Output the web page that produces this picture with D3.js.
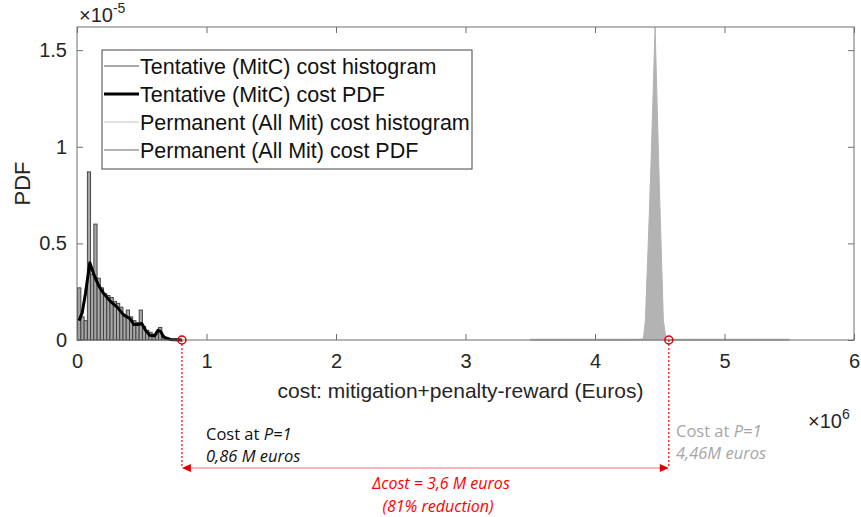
<!DOCTYPE html>
<html>
<head>
<meta charset="utf-8">
<script src="https://cdn.jsdelivr.net/npm/d3@7"></script>
<style>
body { margin: 0; background: #fff; }
svg { display: block; font-family: "Liberation Sans", Arial, sans-serif; }
.ann { font-family: "Open Sans", "Noto Sans", sans-serif; }
</style>
</head>
<body>
<svg width="861" height="517"></svg>
<script>
// values: cost in millions of euros, PDF in units of 1e-5
var tentHistEdges = [0.005, 0.03, 0.055, 0.08, 0.105, 0.13, 0.155, 0.18, 0.205, 0.23, 0.255, 0.28, 0.305, 0.33, 0.355, 0.38, 0.405, 0.43, 0.455, 0.48, 0.505, 0.53, 0.555, 0.58, 0.605, 0.63, 0.655, 0.68, 0.705, 0.73, 0.755, 0.78, 0.805];
var tentHist = [0.27, 0.12, 0.10, 0.87, 0.34, 0.60, 0.32, 0.27, 0.24, 0.23, 0.22, 0.20, 0.19, 0.17, 0.13, 0.155, 0.12, 0.10, 0.09, 0.155, 0.07, 0.05, 0.04, 0.03, 0.03, 0.065, 0.02, 0.01, 0.005, 0, 0, 0];

var tentPdfX = [0.015, 0.04, 0.065, 0.099, 0.13, 0.168, 0.207, 0.258, 0.31, 0.36, 0.41, 0.44, 0.47, 0.50, 0.53, 0.56, 0.60, 0.625, 0.645, 0.67, 0.72, 0.81];
var tentPdfY = [0.10, 0.14, 0.24, 0.40, 0.34, 0.28, 0.24, 0.20, 0.17, 0.13, 0.11, 0.08, 0.08, 0.085, 0.05, 0.025, 0.022, 0.05, 0.045, 0.015, 0.003, 0];

var permHistEdges = [3.5, 3.75, 4.0, 4.25, 4.40, 4.425, 4.45, 4.475, 4.50, 4.75, 5.0, 5.25, 5.5];
var permHist = [0, 0, 0, 0, 0.3, 0.8, 0.8, 0.55, 0, 0, 0, 0];

var permPdfX = [3.5, 4.0, 4.3, 4.373, 4.389, 4.427, 4.464, 4.497, 4.528, 4.55, 4.7, 5.0, 5.5];
var permPdfY = [0, 0, 0, 0.005, 0.1, 0.79, 1.62, 0.79, 0.1, 0, 0, 0, 0];

var xTicks = [0, 1, 2, 3, 4, 5, 6];
var yTicks = [0, 0.5, 1, 1.5];
var legendLabels = ["Tentative (MitC) cost histogram", "Tentative (MitC) cost PDF",
  "Permanent (All Mit) cost histogram", "Permanent (All Mit) cost PDF"];

var costP1Tent = 0.81, costP1Perm = 4.57;

var svg = d3.select("svg"),
    margin = {top: 27, right: 7, bottom: 177, left: 77},
    width = +svg.attr("width") - margin.left - margin.right,
    height = +svg.attr("height") - margin.top - margin.bottom,
    g = svg.append("g").attr("transform", "translate(" + margin.left + "," + margin.top + ")");

var x = d3.scaleLinear().domain([0, 6]).range([0, width]);
var y = d3.scaleLinear().domain([0, 1.62]).range([height, 0]);

var axisCol = "#6e6e6e", textCol = "#262626";

// permanent histogram (light gray)
var permBins = permHist.map(function(v, i) { return {x0: permHistEdges[i], x1: permHistEdges[i + 1], v: v}; });
g.selectAll(".phist").data(permBins).enter().append("rect")
  .attr("class", "phist")
  .attr("x", function(d) { return x(d.x0); })
  .attr("width", function(d) { return x(d.x1) - x(d.x0); })
  .attr("y", function(d) { return y(d.v) - 1; })
  .attr("height", function(d) { return y(0) - y(d.v) + 1; })
  .attr("fill", "#d6d6d6")
  .attr("stroke", "#d6d6d6")
  .attr("stroke-width", 1);

// permanent pdf (filled gray)
var permPts = permPdfX.map(function(v, i) { return [v, permPdfY[i]]; });
g.append("path").datum(permPts)
  .attr("d", d3.area().x(function(d) { return x(d[0]); }).y0(y(0)).y1(function(d) { return y(d[1]); }))
  .attr("fill", "#b3b3b3")
  .attr("stroke", "#b3b3b3")
  .attr("stroke-width", 1);

// tentative histogram
var tentBins = tentHist.map(function(v, i) { return {x0: tentHistEdges[i], x1: tentHistEdges[i + 1], v: v}; });
g.selectAll(".thist").data(tentBins).enter().append("rect")
  .attr("class", "thist")
  .attr("x", function(d) { return x(d.x0); })
  .attr("width", function(d) { return x(d.x1) - x(d.x0); })
  .attr("y", function(d) { return y(d.v); })
  .attr("height", function(d) { return y(0) - y(d.v); })
  .attr("fill", "#a6a6a6")
  .attr("stroke", "#3a3a3a")
  .attr("stroke-width", 0.9);

// tentative pdf
var tentPts = tentPdfX.map(function(v, i) { return [v, tentPdfY[i]]; });
g.append("path").datum(tentPts)
  .attr("d", d3.line().x(function(d) { return x(d[0]); }).y(function(d) { return y(d[1]); }))
  .attr("fill", "none")
  .attr("stroke", "#000")
  .attr("stroke-width", 3)
  .attr("stroke-linejoin", "round");

// axes box
g.append("rect").attr("width", width).attr("height", height)
  .attr("fill", "none").attr("stroke", axisCol).attr("stroke-width", 1);

var xAxis = g.append("g").attr("transform", "translate(0," + height + ")")
  .call(d3.axisBottom(x).tickValues(xTicks).tickSize(-6).tickPadding(14).tickFormat(d3.format("d")));
var xTop = g.append("g")
  .call(d3.axisTop(x).tickValues(xTicks).tickSize(-6).tickFormat(""));
var yAxis = g.append("g")
  .call(d3.axisLeft(y).tickValues(yTicks).tickSize(-6).tickPadding(10).tickFormat(function(d) { return d; }));
var yRight = g.append("g").attr("transform", "translate(" + width + ",0)")
  .call(d3.axisRight(y).tickValues(yTicks).tickSize(-6).tickFormat(""));

[xAxis, xTop, yAxis, yRight].forEach(function(a) {
  a.select(".domain").remove();
  a.selectAll(".tick line").attr("stroke", axisCol);
  a.selectAll(".tick text").attr("fill", textCol).style("font-size", "20px");
});

// axis labels
svg.append("text")
  .attr("transform", "translate(30," + (margin.top + height / 2) + ") rotate(-90)")
  .attr("text-anchor", "middle")
  .attr("fill", textCol)
  .style("font-size", "22px")
  .text("PDF");

svg.append("text")
  .attr("x", margin.left + width / 2 - 5)
  .attr("y", 398)
  .attr("text-anchor", "middle")
  .attr("fill", textCol)
  .style("font-size", "21px")
  .text("cost: mitigation+penalty-reward (Euros)");

var e1 = svg.append("text").attr("x", 79).attr("y", 22).attr("fill", textCol).style("font-size", "20px");
e1.append("tspan").text("\u00d710");
e1.append("tspan").attr("dy", -9).style("font-size", "14px").text("-5");

var e2 = svg.append("text").attr("x", 808).attr("y", 428).attr("fill", textCol).style("font-size", "20px");
e2.append("tspan").text("\u00d710");
e2.append("tspan").attr("dy", -9).style("font-size", "14px").text("6");

// legend
var leg = g.append("g").attr("transform", "translate(25,23)");
leg.append("rect").attr("width", 370).attr("height", 119)
  .attr("fill", "#fff").attr("stroke", "#444").attr("stroke-width", 1);
var legStyles = [
  {c: "#555", w: 1.2},
  {c: "#000", w: 3},
  {c: "#d6d6d6", w: 1.5},
  {c: "#b3b3b3", w: 2}
];
legendLabels.forEach(function(lab, i) {
  var yy = 16 + i * 28;
  leg.append("line").attr("x1", 2).attr("x2", 37).attr("y1", yy).attr("y2", yy)
    .attr("stroke", legStyles[i].c).attr("stroke-width", legStyles[i].w);
  leg.append("text").attr("x", 38).attr("y", yy).attr("dy", "0.35em")
    .attr("fill", "#111").style("font-size", "21.5px").text(lab);
});

// annotations
var red = "#ff0000";
var arrowY = 468 - margin.top;
[costP1Tent, costP1Perm].forEach(function(c) {
  g.append("line").attr("x1", x(c)).attr("x2", x(c)).attr("y1", height).attr("y2", arrowY)
    .attr("stroke", red).attr("stroke-width", 1.2).attr("stroke-dasharray", "2,2");
  g.append("circle").attr("cx", x(c)).attr("cy", y(0)).attr("r", 4)
    .attr("fill", "none").attr("stroke", "#d00").attr("stroke-width", 1.5);
});
g.append("line").attr("x1", x(costP1Tent) + 6).attr("x2", x(costP1Perm) - 6)
  .attr("y1", arrowY).attr("y2", arrowY).attr("stroke", "#f26d6d").attr("stroke-width", 1);
[[costP1Tent, 1], [costP1Perm, -1]].forEach(function(p) {
  var x0 = x(p[0]);
  g.append("path")
    .attr("d", "M" + x0 + "," + arrowY + "L" + (x0 + p[1] * 9) + "," + (arrowY - 4) + "L" + (x0 + p[1] * 9) + "," + (arrowY + 4) + "Z")
    .attr("fill", "#e00000");
});

var a1 = svg.append("g").attr("class", "ann");
a1.append("text").attr("x", 206).attr("y", 440).attr("fill", "#111").style("font-size", "16.5px")
  .call(function(t) {
    t.append("tspan").text("Cost at ");
    t.append("tspan").style("font-style", "italic").text("P=1");
  });
a1.append("text").attr("x", 206).attr("y", 462).attr("fill", "#111").style("font-size", "16.5px")
  .style("font-style", "italic").text("0,86 M euros");

a1.append("text").attr("x", 676).attr("y", 437).attr("fill", "#a6a6a6").style("font-size", "16.5px")
  .call(function(t) {
    t.append("tspan").text("Cost at ");
    t.append("tspan").style("font-style", "italic").text("P=1");
  });
a1.append("text").attr("x", 676).attr("y", 459).attr("fill", "#a6a6a6").style("font-size", "16.5px")
  .style("font-style", "italic").text("4,46M euros");

a1.append("text").attr("x", 441).attr("y", 489).attr("text-anchor", "middle").attr("fill", red)
  .style("font-size", "16px").style("font-style", "italic").text("\u0394cost  = 3,6 M euros");
a1.append("text").attr("x", 438).attr("y", 512).attr("text-anchor", "middle").attr("fill", red)
  .style("font-size", "16px").style("font-style", "italic").text("(81% reduction)");
</script>
</body>
</html>
